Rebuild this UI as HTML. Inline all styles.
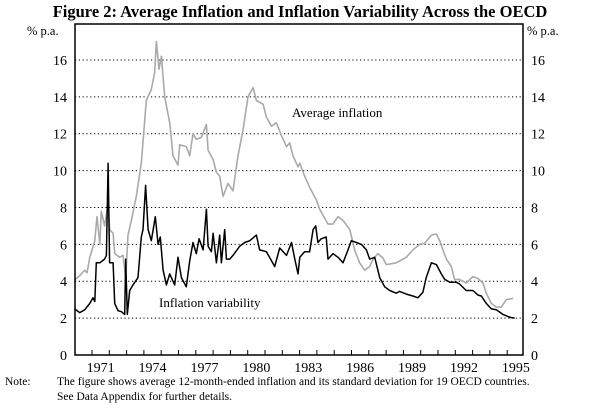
<!DOCTYPE html>
<html><head><meta charset="utf-8"><style>
body{margin:0;background:#fff;}
svg{display:block;font-family:"Liberation Serif",serif;}
</style></head><body>
<svg width="600" height="417" viewBox="0 0 600 417">
<text x="300" y="17" text-anchor="middle" font-size="16.5" font-weight="bold">Figure 2: Average Inflation and Inflation Variability Across the OECD</text>
<text x="27" y="35" font-size="12.5">% p.a.</text>
<text x="527" y="35" font-size="12.5">% p.a.</text>
<g id="grid"></g><g id="series"></g><g id="axes"></g>
<text x="292" y="117" font-size="13">Average inflation</text>
<text x="159" y="307" font-size="13">Inflation variability</text>
<text x="5" y="385" font-size="11.5">Note:</text>
<text x="57" y="385" font-size="11.5">The figure shows average 12-month-ended inflation and its standard deviation for 19 OECD countries.</text>
<text x="57" y="400" font-size="11.5">See Data Appendix for further details.</text>
</svg>
<script>
const yTicks=[0,2,4,6,8,10,12,14,16];
const xTickLabels=[1971,1974,1977,1980,1983,1986,1989,1992,1995];
const avgYears=[1970.00,1970.29,1970.58,1970.71,1970.87,1971.16,1971.29,1971.45,1971.54,1971.73,1971.93,1972.02,1972.22,1972.31,1972.60,1972.79,1972.95,1973.08,1973.28,1973.56,1973.85,1974.14,1974.43,1974.62,1974.72,1974.87,1975.01,1975.20,1975.49,1975.68,1975.97,1976.07,1976.45,1976.65,1976.84,1977.03,1977.32,1977.61,1977.71,1978.00,1978.19,1978.38,1978.57,1978.86,1979.15,1979.44,1979.73,1980.02,1980.31,1980.50,1980.89,1981.08,1981.37,1981.66,1981.95,1982.24,1982.43,1982.62,1982.91,1983.01,1983.29,1983.58,1983.97,1984.16,1984.64,1984.93,1985.22,1985.51,1985.90,1986.18,1986.47,1986.76,1987.05,1987.24,1987.53,1987.82,1988.01,1988.59,1988.78,1989.17,1989.55,1989.94,1990.23,1990.62,1990.91,1991.10,1991.48,1991.77,1991.96,1992.25,1992.63,1993.02,1993.31,1993.60,1993.79,1994.08,1994.37,1994.66,1994.95,1995.34];
const avgValues=[4.07,4.3,4.6,4.45,5.3,6.2,7.5,6.0,7.8,7.0,8.2,6.8,6.6,5.5,5.3,5.4,4.2,6.5,7.3,8.6,10.4,13.8,14.4,15.3,17.0,15.5,16.2,14.0,12.6,10.8,10.3,11.4,11.3,10.8,12.0,11.7,11.8,12.5,11.1,10.6,9.9,9.7,8.6,9.3,8.9,10.8,12.2,14.0,14.5,13.8,13.6,12.9,12.4,12.6,11.9,11.3,11.5,10.8,10.2,10.4,9.7,9.1,8.4,7.9,7.1,7.1,7.5,7.3,6.8,5.7,5.0,4.6,4.8,5.2,5.5,5.25,4.9,5.0,5.1,5.3,5.7,6.0,6.05,6.5,6.56,6.2,5.2,4.8,4.1,4.1,3.9,4.25,4.15,3.9,3.35,2.8,2.6,2.6,3.0,3.07];
const varYears=[1970.00,1970.29,1970.58,1970.87,1971.06,1971.16,1971.25,1971.45,1971.73,1971.83,1971.93,1972.02,1972.22,1972.31,1972.50,1972.70,1972.89,1972.95,1973.04,1973.18,1973.37,1973.66,1973.85,1973.95,1974.10,1974.24,1974.43,1974.66,1974.82,1974.95,1975.11,1975.30,1975.49,1975.78,1975.97,1976.17,1976.45,1976.65,1976.84,1977.03,1977.19,1977.42,1977.61,1977.71,1977.90,1978.00,1978.19,1978.38,1978.48,1978.67,1978.77,1978.96,1979.15,1979.54,1979.83,1980.12,1980.50,1980.69,1981.08,1981.56,1981.85,1982.24,1982.53,1982.72,1982.91,1983.01,1983.29,1983.58,1983.78,1983.93,1984.06,1984.25,1984.54,1984.64,1984.93,1985.22,1985.51,1985.80,1985.99,1986.28,1986.57,1986.86,1987.05,1987.34,1987.63,1987.92,1988.21,1988.59,1988.78,1989.17,1989.55,1989.84,1990.13,1990.32,1990.62,1990.91,1991.19,1991.39,1991.68,1992.06,1992.25,1992.63,1993.02,1993.31,1993.50,1993.79,1994.08,1994.37,1994.75,1995.14,1995.43];
const varValues=[2.5,2.3,2.45,2.8,3.1,2.9,5.0,5.0,5.2,5.4,10.4,5.0,5.0,2.8,2.4,2.35,2.2,5.2,2.2,3.5,3.8,4.2,6.4,6.8,9.2,6.8,6.2,7.5,6.0,6.4,4.6,3.8,4.4,3.8,5.3,4.2,3.7,5.1,6.1,5.5,6.3,5.7,7.9,5.9,5.6,6.6,5.0,6.5,5.0,6.8,5.2,5.2,5.4,5.9,6.1,6.2,6.5,5.7,5.6,4.8,5.8,5.4,6.1,5.2,4.4,5.3,5.6,5.6,6.8,7.0,6.1,6.3,6.4,5.2,5.5,5.3,5.0,5.7,6.2,6.1,6.0,5.7,5.2,5.3,4.2,3.7,3.5,3.35,3.45,3.3,3.2,3.1,3.4,4.2,5.0,4.9,4.4,4.1,3.95,3.95,3.85,3.5,3.5,3.25,3.2,2.8,2.5,2.45,2.2,2.05,2.0];
const L=75,R=523,B=355,T=24;
const xs=t=>92+(t-1971)*17.3;
const ys=v=>B-v*18.44;
const NS='http://www.w3.org/2000/svg';
function mk(tag,attrs,parent){const e=document.createElementNS(NS,tag);for(const k in attrs)e.setAttribute(k,attrs[k]);parent.appendChild(e);return e;}
const grid=document.getElementById('grid'),ser=document.getElementById('series'),ax=document.getElementById('axes');
yTicks.forEach(v=>{
  if(v>0){const g=mk('line',{x1:L,x2:R,y1:ys(v),y2:ys(v),stroke:'#000','stroke-width':1,'stroke-dasharray':'1.2,2.6'},grid);
  
  }
  const a=mk('text',{x:L-8,y:ys(v)+5,'text-anchor':'end','font-size':14},ax);a.textContent=v;
  
  
  const b=mk('text',{x:R+8,y:ys(v)+5,'text-anchor':'start','font-size':14},ax);b.textContent=v;
  
  
});
for(let y=1971;y<=1995;y++){
  const t=mk('line',{x1:xs(y),x2:xs(y),y1:B,y2:B-5,stroke:'#000','stroke-width':1},ax);
  
  
}
xTickLabels.forEach(y=>{
  const t=mk('text',{x:xs(y+0.5),y:372,'text-anchor':'middle','font-size':14},ax);t.textContent=y;
  
  
});
function line(xa,va,color,w,name){
  const d=xa.map((t,i)=>(i?'L':'M')+xs(t).toFixed(1)+','+ys(va[i]).toFixed(1)).join('');
  const p=mk('path',{d:d,fill:'none',stroke:color,'stroke-width':w,'stroke-linejoin':'round'},ser);
  
  
}
line(avgYears,avgValues,'#aaa',1.6,'average-inflation-line');
line(varYears,varValues,'#000',1.5,'inflation-variability-line');
const fr=mk('rect',{x:L,y:T,width:R-L,height:B-T,fill:'none',stroke:'#000','stroke-width':1.5},ax);


</script>
</body></html>
